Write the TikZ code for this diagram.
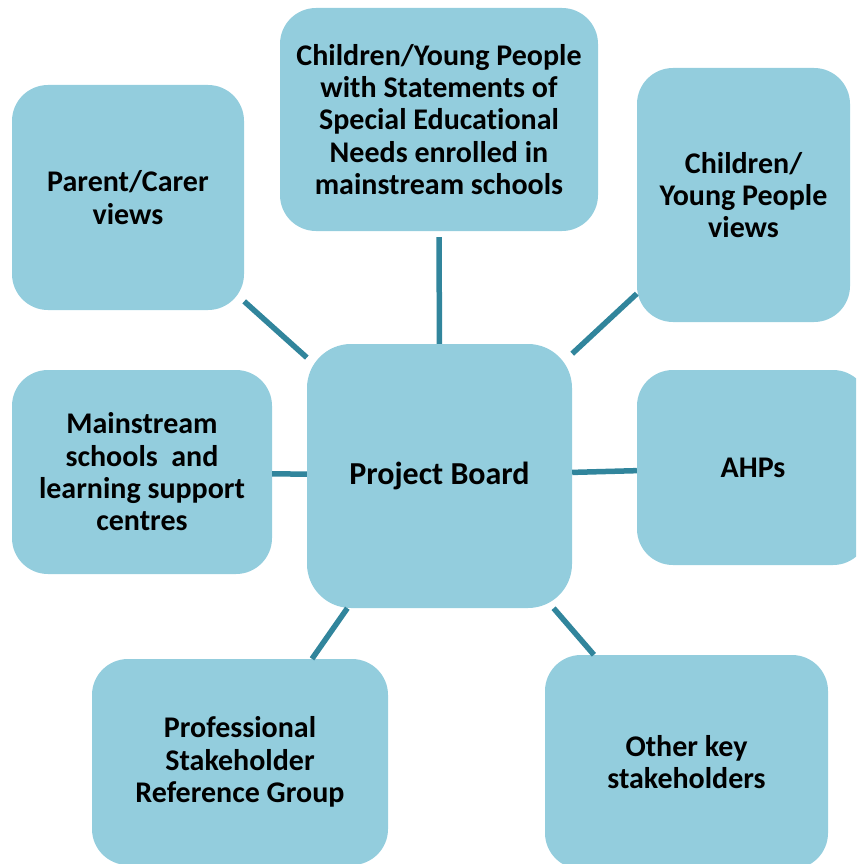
\documentclass[tikz,border=0pt]{standalone}
\usepackage{fontspec}
\setmainfont{Carlito}[Ligatures=NoCommon]
\definecolor{boxfill}{HTML}{93CDDD}
\definecolor{linkteal}{HTML}{31859C}
\tikzset{
  group/.style={rectangle, rounded corners=36pt, fill=boxfill, align=center,
    inner sep=0pt, font=\fontsize{30}{32.3}\selectfont\bfseries},
  link/.style={draw=linkteal, line width=5.5pt}
}
\begin{document}
\begin{tikzpicture}[x=1pt,y=-1pt]
\useasboundingbox (0,0) rectangle (856,864);
\clip (0,0) rectangle (856,864);
% centre
\node[group, minimum width=265pt, minimum height=264pt, rounded corners=44pt,
  font=\fontsize{32}{34}\selectfont\bfseries] (board) at (439.5,476) {Project Board};
% surrounding groups
\node[group, minimum width=318pt, minimum height=223pt] (pupils) at (439,119.5)
  {Children/Young People\\with Statements of\\Special Educational\\Needs enrolled in\\mainstream schools};
\node[group, minimum width=232pt, minimum height=225pt] (parents) at (128,197.5) {Parent/Carer\\views};
\node[group, minimum width=213pt, minimum height=254pt] (cypviews) at (743.5,195) {Children/\\Young People\\views};
\node[group, minimum width=260pt, minimum height=204pt] (schools) at (142,472)
  {Mainstream\\schools\ \ and\\learning support\\centres};
\node[group, minimum width=232pt, minimum height=195pt] (ahps) at (753,467.5) {AHPs};
\node[group, minimum width=296pt, minimum height=206pt] (profgroup) at (240,762)
  {Professional\\Stakeholder\\Reference Group};
\node[group, minimum width=283pt, minimum height=214pt] (others) at (686.5,762) {Other key\\stakeholders};
% links
\draw[link, shorten <=6pt] (pupils) -- (board);
\draw[link] (parents) -- (board);
\draw[link] (cypviews) -- (board);
\draw[link] (schools) -- (board);
\draw[link] (ahps) -- (board);
\draw[link] (profgroup) -- (board);
\draw[link] (others) -- (board);
\end{tikzpicture}
\end{document}
